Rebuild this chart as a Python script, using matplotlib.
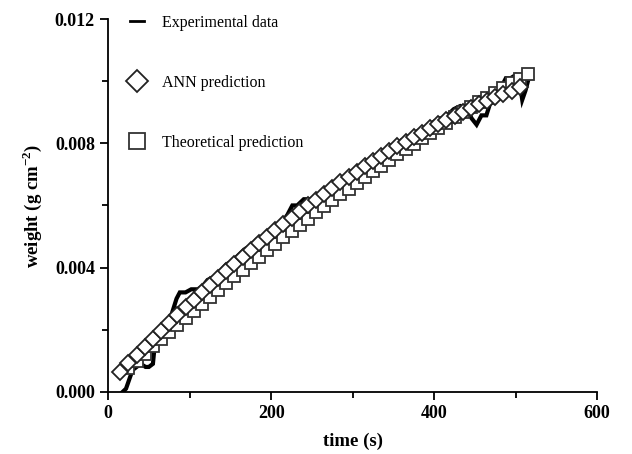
import numpy as np
import matplotlib
matplotlib.use('Agg')
import matplotlib.pyplot as plt
from matplotlib.ticker import MultipleLocator

plt.rcParams['font.family'] = 'serif'
plt.rcParams['font.serif'] = ['Liberation Serif', 'DejaVu Serif']
plt.rcParams['mathtext.fontset'] = 'custom'
plt.rcParams['mathtext.rm'] = 'Liberation Serif'
plt.rcParams['mathtext.bf'] = 'Liberation Serif:bold'

# Experimental data (time s, weight in 1e-4 g cm^-2)
exp_t = [18, 22, 26, 30, 35, 40, 46, 50, 55, 58, 62, 67, 72, 78, 84, 88, 95, 102,
         110, 116, 122, 130, 138, 145, 152, 160, 168, 175, 182, 190, 196, 204, 212,
         220, 226, 232, 240, 248, 256, 264, 272, 280, 290, 300, 310, 320, 330, 340,
         350, 360, 370, 380, 390, 400, 408, 416, 424, 432, 440, 446, 452, 458, 464,
         470, 476, 482, 488, 494, 500, 504, 508, 512, 516, 520]
exp_w = [0, 1, 4, 7, 8, 9, 8, 8, 9, 17, 19, 20, 21, 25, 30, 32, 32, 33,
         33, 34, 36, 37, 39, 41, 42, 44, 46, 47, 49, 50, 47, 50, 54,
         57, 60, 60, 62, 62, 63, 63, 65, 67, 69, 71, 73, 74, 76, 78,
         79, 81, 82, 84, 85, 87, 87, 89, 91, 92, 91, 88, 86, 89, 89,
         94, 96, 98, 101, 101, 102, 101, 94, 97, 101, 101]

# ANN prediction
ann_t = list(range(15, 506, 10))
ann_w = [6.50, 9.21, 11.89, 14.54, 17.14, 19.72, 22.26, 24.76, 27.23, 29.66,
         32.05, 34.42, 36.74, 39.03, 41.29, 43.51, 45.70, 47.85, 49.96, 52.04,
         54.08, 56.09, 58.07, 60.01, 61.91, 63.78, 65.61, 67.41, 69.17, 70.89,
         72.59, 74.24, 75.86, 77.45, 79.00, 80.51, 81.99, 83.44, 84.85, 86.22,
         87.56, 88.86, 90.13, 91.36, 92.56, 93.72, 94.85, 95.94, 97.00, 98.02]

# Theoretical prediction
theo_t = list(range(25, 516, 10))
theo_w = [7.52, 9.92, 12.29, 14.65, 16.99, 19.31, 21.61, 23.89, 26.15, 28.39,
          30.61, 32.81, 34.99, 37.16, 39.31, 41.43, 43.54, 45.63, 47.70, 49.75,
          51.78, 53.79, 55.78, 57.75, 59.71, 61.64, 63.55, 65.45, 67.32, 69.18,
          71.02, 72.84, 74.64, 76.42, 78.18, 79.92, 81.64, 83.34, 85.03, 86.69,
          88.33, 89.96, 91.57, 93.15, 94.72, 96.27, 97.80, 99.31, 100.80, 102.27]

scale = 1e-4

fig = plt.figure(figsize=(6.32, 4.54), dpi=100)
ax = fig.add_axes([0.171, 0.137, 0.774, 0.821])

ax.plot(exp_t, np.array(exp_w) * scale, color='black', lw=3.0,
        solid_joinstyle='miter', label='Experimental data', zorder=2)
ax.plot(theo_t, np.array(theo_w) * scale, ls='none', marker='s', ms=8.2,
        mfc='white', mec='#333333', mew=1.3, label='Theoretical prediction', zorder=3)
ax.plot(ann_t, np.array(ann_w) * scale, ls='none', marker='D', ms=8.2,
        mfc='white', mec='#222222', mew=1.3, label='ANN prediction', zorder=4)

ax.set_xlim(0, 600)
ax.set_ylim(0, 0.012)
ax.xaxis.set_major_locator(MultipleLocator(200))
ax.xaxis.set_minor_locator(MultipleLocator(100))
ax.yaxis.set_major_locator(MultipleLocator(0.004))
ax.yaxis.set_minor_locator(MultipleLocator(0.002))
ax.yaxis.set_major_formatter(matplotlib.ticker.FormatStrFormatter('%.3f'))

for s in ['top', 'right']:
    ax.spines[s].set_visible(False)
for s in ['left', 'bottom']:
    ax.spines[s].set_linewidth(1.3)

ax.tick_params(which='major', direction='out', length=6, width=1.3, labelsize=13)
ax.tick_params(which='minor', direction='out', length=4, width=1.3)
for lab in ax.get_xticklabels() + ax.get_yticklabels():
    lab.set_fontweight('bold')

ax.set_xlabel('time (s)', fontsize=13.5, fontweight='bold', labelpad=8)
ax.set_ylabel(r'weight (g cm$^{\mathbf{-2}}$)', fontsize=13.5, fontweight='bold', labelpad=8)

handles, labels = ax.get_legend_handles_labels()
order = [0, 2, 1]
leg = ax.legend([handles[i] for i in order], [labels[i] for i in order],
                loc='upper left', bbox_to_anchor=(0.015, 1.05), frameon=False,
                fontsize=11.5, labelspacing=2.75, handlelength=0.9, handletextpad=1.1,
                markerscale=1.35)
leg.get_lines()[0].set_linewidth(2.0)

fig.savefig('out.png', dpi=100, facecolor='white')
